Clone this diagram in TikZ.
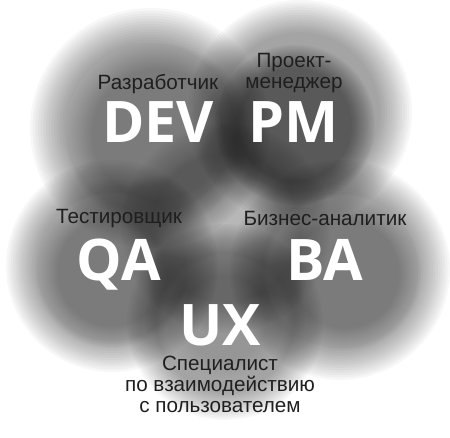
\documentclass[tikz,border=0pt]{standalone}
\usepackage{fontspec}
\setmainfont{Liberation Sans}
\newfontfamily\rolefont{Open Sans}
\usetikzlibrary{
    % calc,
    positioning
}
% soft-edged grey disc: stacked faint rings
\newcommand{\haze}[3]{%
    \foreach \k in {0,...,13}
        \fill[black, fill opacity = #3] #1 circle ({#2*(1 - 0.022*\k)});
}
\tikzset{
    every picture/.style = {
        x = 0.75pt,
        y = -0.75pt
    },
    role/.style = {
        inner sep = 0pt,
        anchor = base,
        text = white,
        font = \rolefont\bfseries\fontsize{43}{43}\selectfont
    },
    title/.style = {
        inner sep = 0pt,
        align = center,
        text = black!88,
        font = \fontsize{15.5}{15.8}\selectfont
    }
}

\begin{document}
\begin{tikzpicture}[node distance = 4pt]
    \useasboundingbox (0,0) rectangle (450,438);

    \haze{(226,228)}{105}{0.022}
    \haze{(150,128)}{120}{0.033}
    \haze{(300,112)}{112}{0.033}
    \haze{(112,266)}{106}{0.033}
    \haze{(340,270)}{110}{0.033}
    \haze{(225,322)}{98}{0.030}
    \haze{(158,135)}{92}{0.018}
    \haze{(295,125)}{80}{0.042}
    \haze{(112,272)}{76}{0.020}
    \haze{(345,274)}{76}{0.018}
    \haze{(225,318)}{60}{0.008}

    \node[role] (dev) at (158,143) {DEV};
    \node[role] (pm) at (294,143) {PM};
    \node[role] (qa) at (119,281) {QA};
    \node[role] (ba) at (325,281) {BA};
    \node[role] (ux) at (220,346) {UX};

    \node[title] [above = 6pt of dev] (devt) {Разработчик};
    \node[title] [above = 6.5pt of pm] (pmt) {Проект-\\менеджер};
    \node[title] [above = 8pt of qa] (qat) {Тестировщик};
    \node[title] [above = 10pt of ba] (bat) {Бизнес-аналитик};
    \node[title] [below = 7pt of ux] (uxt) {Специалист\\по взаимодействию\\с пользователем};
\end{tikzpicture}
\end{document}
